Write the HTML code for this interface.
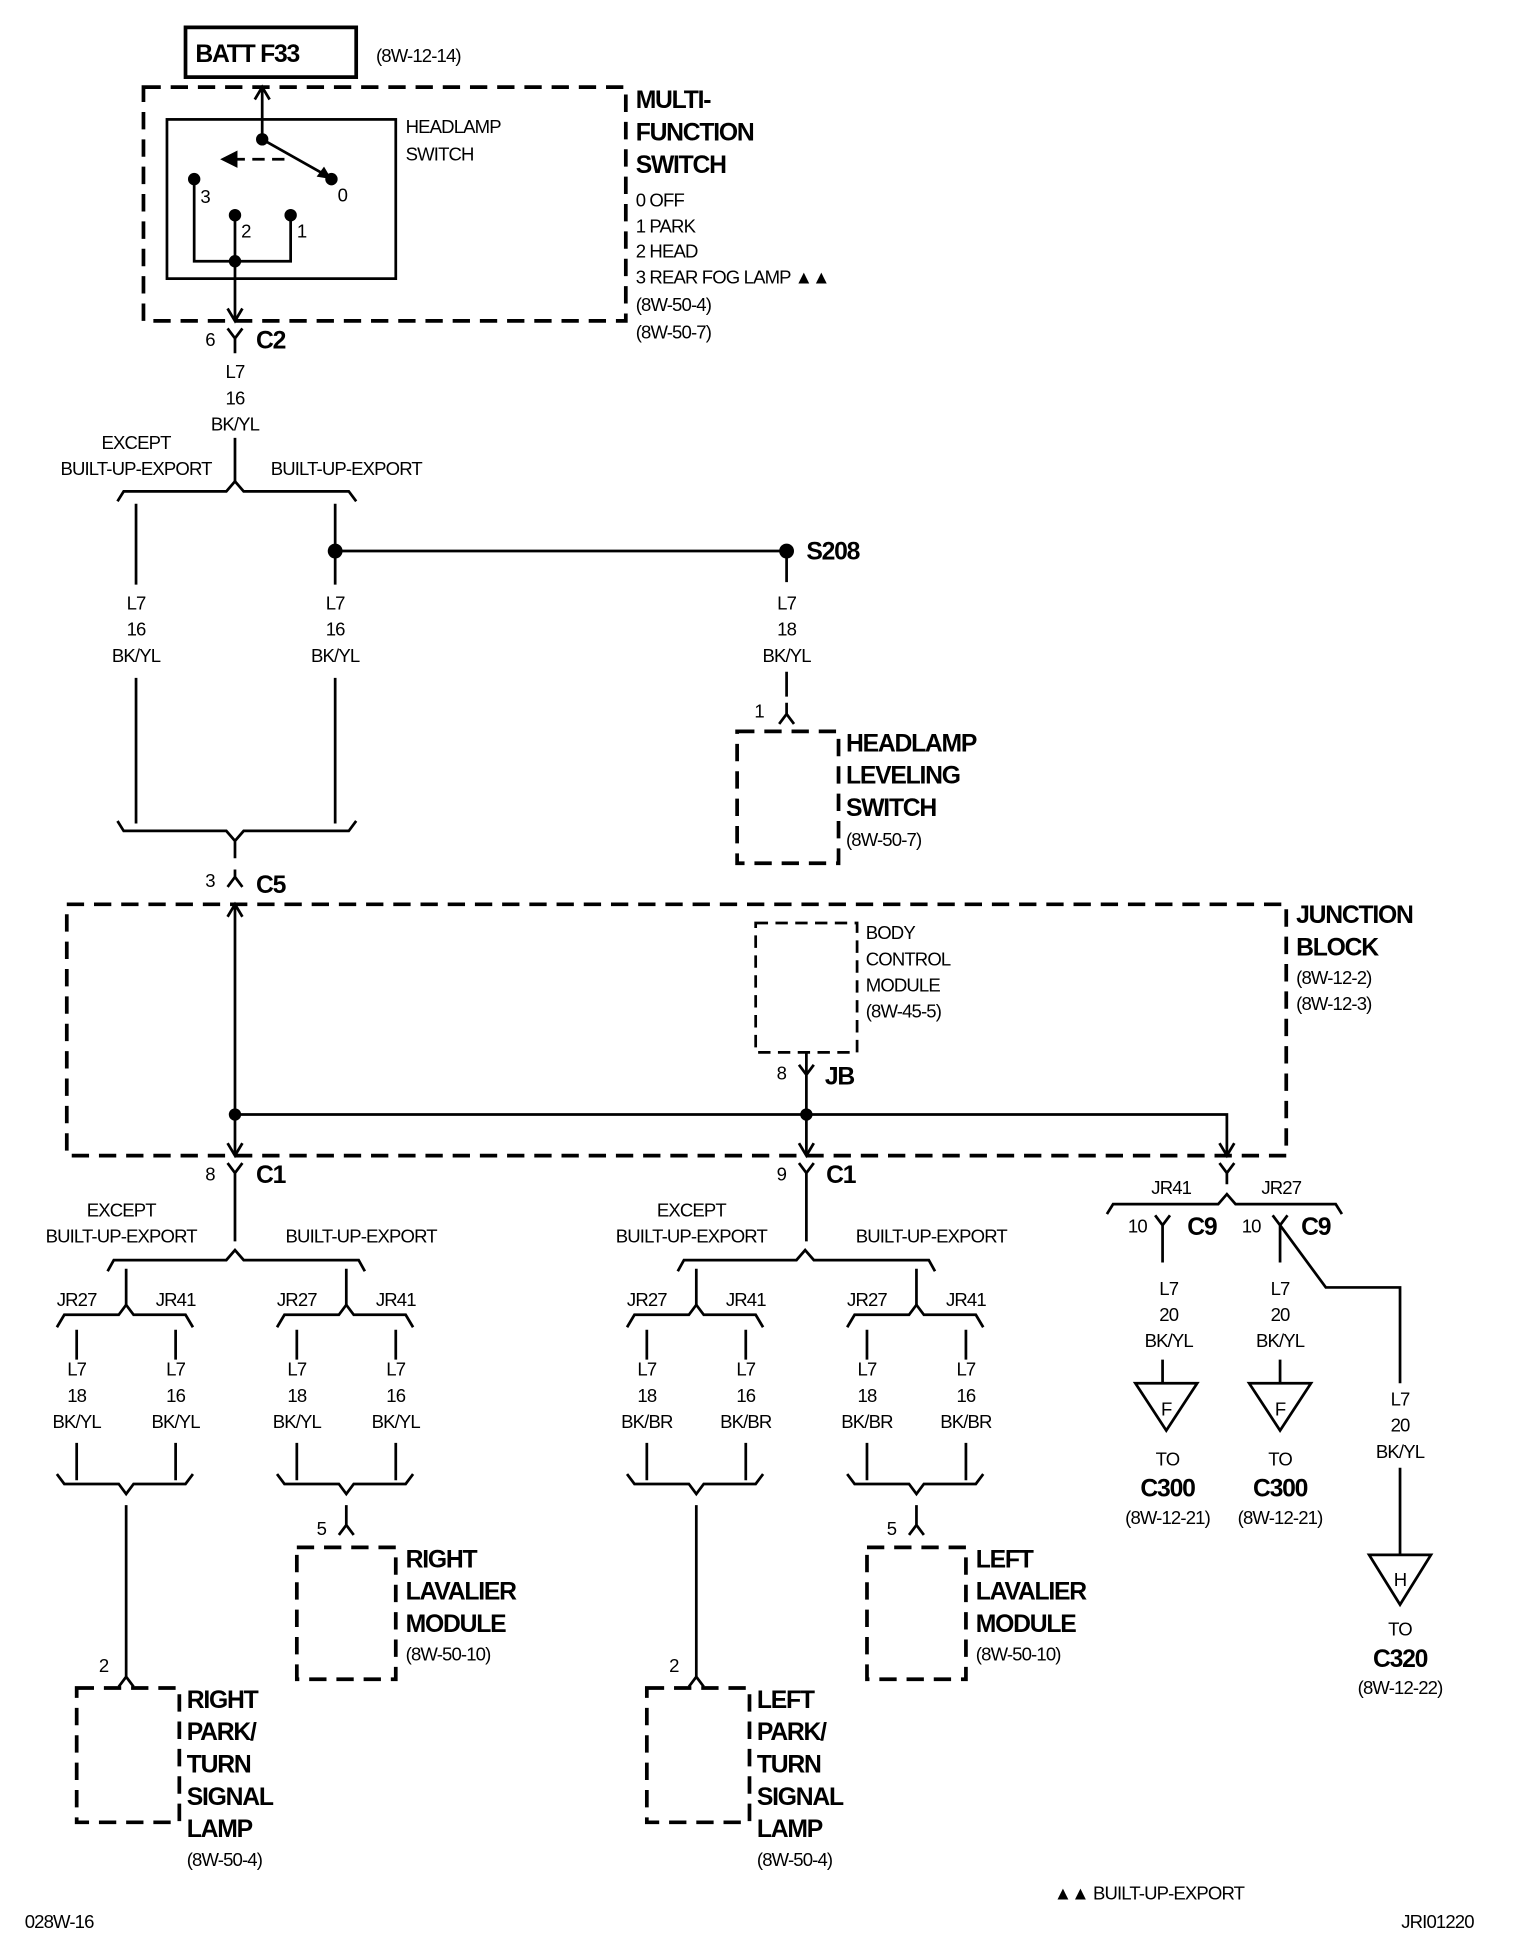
<!DOCTYPE html>
<html><head><meta charset="utf-8"><style>
html,body{margin:0;padding:0;background:#fff}
svg{display:block}
text{font-family:"Liberation Sans",Arial,sans-serif;font-size:15px;fill:#000;letter-spacing:-0.7px}
.b{font-weight:bold;font-size:20px;letter-spacing:-1px}
.c{text-anchor:middle}
</style></head><body>
<svg width="1520" height="1938" viewBox="0 0 1229 1558" preserveAspectRatio="none" xmlns="http://www.w3.org/2000/svg">
<g fill="none" stroke="#000" stroke-width="2.2">
<rect x="150" y="22" width="138" height="40" stroke-width="3"/>
<rect x="116" y="70" width="390" height="188" stroke-width="3" stroke-dasharray="14,8"/>
<rect x="135" y="96" width="185" height="128"/>
<path d="M212 70V112M206 80L212 70L218 80"/>
<path d="M212 112L262 140"/>
<path d="M230 128H190" stroke-dasharray="10,6"/>
<path d="M157 144V210H235V173M190 173V258M184 248L190 258L196 248"/>
<path d="M184 264L190 272L196 264M190 272V284"/>
<path d="M190 352V387"/>
<path d="M95 403L100 395H183L190 387L197 395H282L288 403"/>
<path d="M110 405V470M110 545V662M271 405V470M271 545V662M271 443H636M636 443V468M636 540V560M630 582L636 574L642 582M636 574V565"/>
<rect x="596" y="588" width="82" height="106" stroke-width="3" stroke-dasharray="14,8"/>
<path d="M95 660L100 668H183L190 676L197 668H282L288 660M190 676V690M184 713L190 705L196 713M190 705V699"/>
<rect x="54" y="727" width="986" height="202" stroke-width="3" stroke-dasharray="14,8"/>
<rect x="611" y="742" width="82" height="104" stroke-dasharray="10,6"/>
<path d="M184 737L190 727L196 737M190 727V929M190 896H992V929M652 864V929M646 856L652 864L658 856M652 846V864"/>
<path d="M184 919L190 929L196 919M646 919L652 929L658 919M986 919L992 929L998 919"/>
<path d="M184 935L190 943L196 935M190 943V998M646 935L652 943L658 935M652 943V998"/>
<path d="M986 935L992 943L998 935M992 943V952"/>
<path d="M895 976L900 968H985L992 960L999 968H1080L1085 976"/>
<path d="M934 977L940 985L946 977M940 985V1015M940 1093V1112"/>
<path d="M1029 977L1035 985L1041 977M1035 985V1015M1035 1093V1112M1035 985L1072 1035H1132V1112M1132 1180V1250"/>
<path d="M918 1112H968L943 1150Z M1010 1112H1060L1035 1150Z M1107 1250H1157L1132 1290Z"/>
</g>
<g fill="#000">
<circle cx="212" cy="112" r="5"/><circle cx="268" cy="144" r="5"/>
<circle cx="157" cy="144" r="5"/><circle cx="190" cy="173" r="5"/><circle cx="235" cy="173" r="5"/>
<circle cx="190" cy="210" r="5"/>
<circle cx="271" cy="443" r="6"/><circle cx="636" cy="443" r="6"/>
<circle cx="190" cy="896" r="5"/><circle cx="652" cy="896" r="5"/>
<path d="M178 128L192 121V135Z"/>
<path d="M268 144L256 142L262 134Z"/>
</g>

<g id="grp">
<g fill="none" stroke="#000" stroke-width="2.2">
<path d="M87 1022L92 1013H183L190 1005L197 1013H290L295 1022"/>
<path d="M102 1020V1050M280 1020V1050"/>
<path d="M46 1067L52 1057H96L102 1049L108 1057H150L156 1067"/>
<path d="M224 1067L230 1057H274L280 1049L286 1057H328L334 1067"/>
<path d="M62 1069V1093M142 1069V1093M240 1069V1093M320 1069V1093"/>
<path d="M62 1160V1190M142 1160V1190M240 1160V1190M320 1160V1190"/>
<path d="M46 1185L52 1193H96L102 1201L108 1193H150L156 1185"/>
<path d="M224 1185L230 1193H274L280 1201L286 1193H328L334 1185"/>
<path d="M102 1210V1348M96 1356L102 1348L108 1356"/>
<path d="M280 1210V1226M274 1234L280 1226L286 1234"/>
<rect x="240" y="1244" width="80" height="106" stroke-width="3" stroke-dasharray="14,8"/>
<rect x="62" y="1357" width="83" height="108" stroke-width="3" stroke-dasharray="14,8"/>
</g>
<text class="c" x="98" y="978">EXCEPT</text>
<text class="c" x="98" y="999">BUILT-UP-EXPORT</text>
<text class="c" x="292" y="999">BUILT-UP-EXPORT</text>
<text class="c" x="62" y="1050">JR27</text><text class="c" x="142" y="1050">JR41</text>
<text class="c" x="240" y="1050">JR27</text><text class="c" x="320" y="1050">JR41</text>
<text class="c" x="62" y="1106">L7</text><text class="c" x="142" y="1106">L7</text><text class="c" x="240" y="1106">L7</text><text class="c" x="320" y="1106">L7</text>
<text class="c" x="62" y="1127">18</text><text class="c" x="142" y="1127">16</text><text class="c" x="240" y="1127">18</text><text class="c" x="320" y="1127">16</text>
<text x="80" y="1344">2</text><text x="256" y="1234">5</text>
</g>
<text class="c" x="62" y="1148">BK/YL</text><text class="c" x="142" y="1148">BK/YL</text><text class="c" x="240" y="1148">BK/YL</text><text class="c" x="320" y="1148">BK/YL</text>
<use href="#grp" transform="translate(461,0)"/>
<text class="c" x="523" y="1148">BK/BR</text><text class="c" x="603" y="1148">BK/BR</text><text class="c" x="701" y="1148">BK/BR</text><text class="c" x="781" y="1148">BK/BR</text>

<text class="b" x="328" y="1260">RIGHT</text><text class="b" x="328" y="1286">LAVALIER</text><text class="b" x="328" y="1312">MODULE</text><text x="328" y="1335">(8W-50-10)</text>
<text class="b" x="151" y="1373">RIGHT</text><text class="b" x="151" y="1399">PARK/</text><text class="b" x="151" y="1425">TURN</text><text class="b" x="151" y="1451">SIGNAL</text><text class="b" x="151" y="1477">LAMP</text><text x="151" y="1500">(8W-50-4)</text>
<text class="b" x="789" y="1260">LEFT</text><text class="b" x="789" y="1286">LAVALIER</text><text class="b" x="789" y="1312">MODULE</text><text x="789" y="1335">(8W-50-10)</text>
<text class="b" x="612" y="1373">LEFT</text><text class="b" x="612" y="1399">PARK/</text><text class="b" x="612" y="1425">TURN</text><text class="b" x="612" y="1451">SIGNAL</text><text class="b" x="612" y="1477">LAMP</text><text x="612" y="1500">(8W-50-4)</text>

<text class="b" x="158" y="50">BATT F33</text>
<text x="304" y="50">(8W-12-14)</text>
<text x="328" y="107">HEADLAMP</text><text x="328" y="129">SWITCH</text>
<text x="162" y="163">3</text><text x="273" y="162">0</text><text x="195" y="191">2</text><text x="240" y="191">1</text>
<text class="b" x="514" y="87">MULTI-</text><text class="b" x="514" y="113">FUNCTION</text><text class="b" x="514" y="139">SWITCH</text>
<text x="514" y="166">0 OFF</text><text x="514" y="187">1 PARK</text><text x="514" y="207">2 HEAD</text><text x="514" y="228">3 REAR FOG LAMP ▲▲</text>
<text x="514" y="250">(8W-50-4)</text><text x="514" y="272">(8W-50-7)</text>
<text x="166" y="278">6</text><text class="b" x="207" y="280">C2</text>
<text class="c" x="190" y="304">L7</text><text class="c" x="190" y="325">16</text><text class="c" x="190" y="346">BK/YL</text>
<text class="c" x="110" y="361">EXCEPT</text><text class="c" x="110" y="382">BUILT-UP-EXPORT</text><text class="c" x="280" y="382">BUILT-UP-EXPORT</text>
<text class="c" x="110" y="490">L7</text><text class="c" x="110" y="511">16</text><text class="c" x="110" y="532">BK/YL</text>
<text class="c" x="271" y="490">L7</text><text class="c" x="271" y="511">16</text><text class="c" x="271" y="532">BK/YL</text>
<text class="c" x="636" y="490">L7</text><text class="c" x="636" y="511">18</text><text class="c" x="636" y="532">BK/YL</text>
<text class="b" x="652" y="450">S208</text>
<text x="610" y="577">1</text>
<text class="b" x="684" y="604">HEADLAMP</text><text class="b" x="684" y="630">LEVELING</text><text class="b" x="684" y="656">SWITCH</text><text x="684" y="680">(8W-50-7)</text>
<text x="166" y="713">3</text><text class="b" x="207" y="718">C5</text>
<text class="b" x="1048" y="742">JUNCTION</text><text class="b" x="1048" y="768">BLOCK</text><text x="1048" y="791">(8W-12-2)</text><text x="1048" y="812">(8W-12-3)</text>
<text x="700" y="755">BODY</text><text x="700" y="776">CONTROL</text><text x="700" y="797">MODULE</text><text x="700" y="818">(8W-45-5)</text>
<text x="628" y="868">8</text><text class="b" x="667" y="872">JB</text>
<text x="166" y="949">8</text><text class="b" x="207" y="951">C1</text>
<text x="628" y="949">9</text><text class="b" x="668" y="951">C1</text>
<text class="c" x="947" y="960">JR41</text><text class="c" x="1036" y="960">JR27</text>
<text x="912" y="991">10</text><text class="b" x="960" y="993">C9</text>
<text x="1004" y="991">10</text><text class="b" x="1052" y="993">C9</text>
<text class="c" x="945" y="1041">L7</text><text class="c" x="945" y="1062">20</text><text class="c" x="945" y="1083">BK/YL</text>
<text class="c" x="1035" y="1041">L7</text><text class="c" x="1035" y="1062">20</text><text class="c" x="1035" y="1083">BK/YL</text>
<text class="c" x="1132" y="1130">L7</text><text class="c" x="1132" y="1151">20</text><text class="c" x="1132" y="1172">BK/YL</text>
<text class="c" x="943" y="1138">F</text><text class="c" x="1035" y="1138">F</text><text class="c" x="1132" y="1275">H</text>
<text class="c" x="944" y="1178">TO</text><text class="b c" x="944" y="1203">C300</text><text class="c" x="944" y="1225">(8W-12-21)</text>
<text class="c" x="1035" y="1178">TO</text><text class="b c" x="1035" y="1203">C300</text><text class="c" x="1035" y="1225">(8W-12-21)</text>
<text class="c" x="1132" y="1315">TO</text><text class="b c" x="1132" y="1340">C320</text><text class="c" x="1132" y="1362">(8W-12-22)</text>
<text x="852" y="1527">▲▲ BUILT-UP-EXPORT</text>
<text x="20" y="1550">028W-16</text><text x="1133" y="1550">JRI01220</text>
</svg>
</body></html>
